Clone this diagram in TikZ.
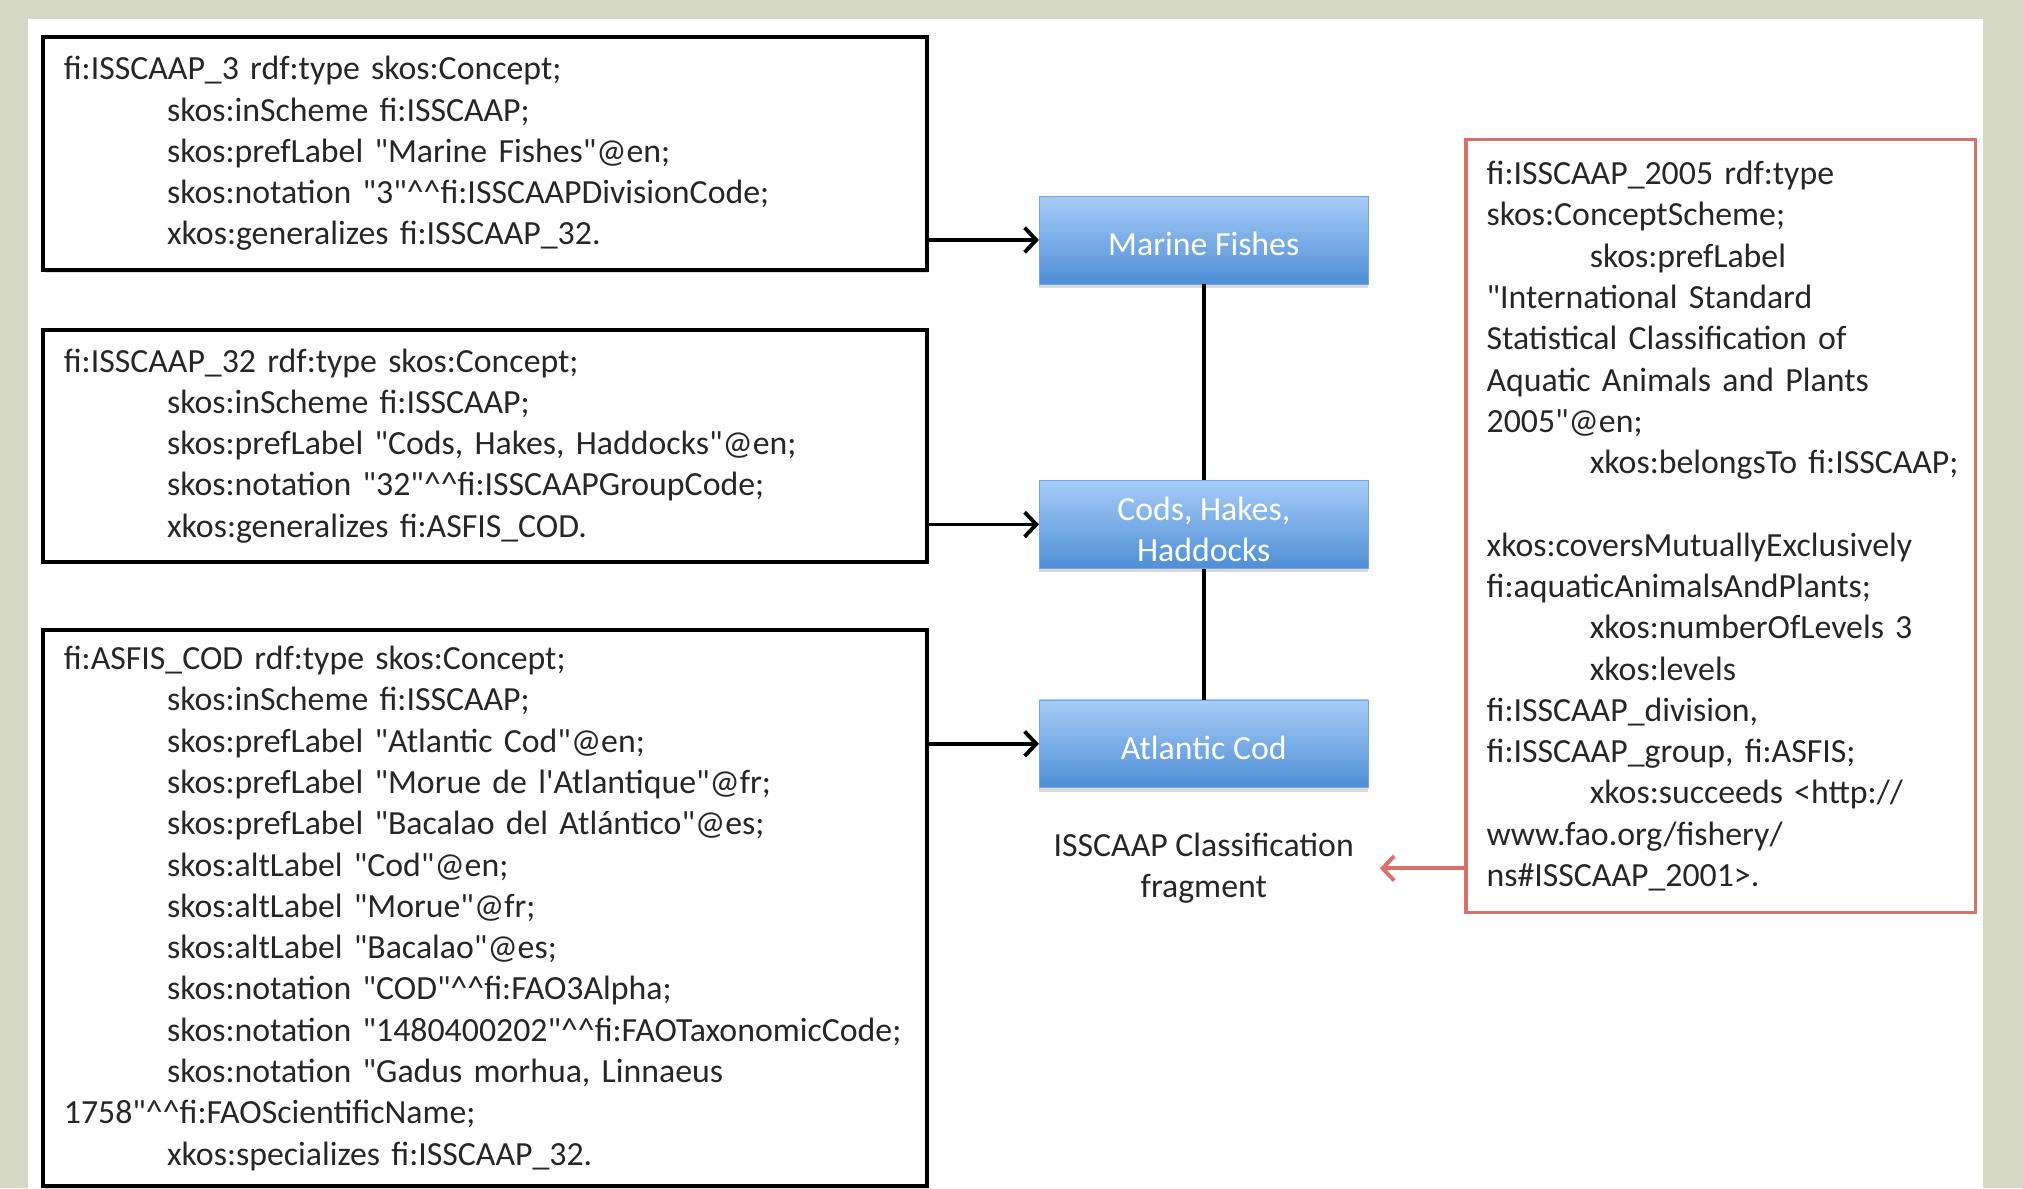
\documentclass[tikz,border=0pt]{standalone}
\usepackage{fontspec}
\setmainfont{Carlito}[Ligatures=TeXOff]
\usepackage{tikz}
\usetikzlibrary{shadows}
\usetikzlibrary{arrows.meta}
\usetikzlibrary{calc,positioning}

\definecolor{panelbg}{RGB}{214,216,198}
\definecolor{boxtop}{RGB}{166,204,247}
\definecolor{boxbot}{RGB}{78,142,214}
\definecolor{schemered}{RGB}{217,112,108}
\newcommand{\indt}{\hspace*{80pt}}
\newcommand{\hats}{\textasciicircum\textasciicircum}

\begin{document}
\begin{tikzpicture}[x=1pt, y=-1pt, >={Straight Barb[length=9pt,width=19pt]},
    txt/.style={font=\fontsize{26.2}{32}\selectfont},
    rdfbox/.style={txt, draw, line width=3pt, fill=white, text=black!85, anchor=north west,
        align=left, text width=653pt, inner xsep=16pt, inner ysep=0pt,
        drop shadow={opacity=.25, shadow xshift=1pt, shadow yshift=-2pt}},
    catbox/.style={txt, text=white, top color=boxtop, bottom color=boxbot, draw=boxbot!60!boxtop,
        line width=.5pt, minimum width=255pt, minimum height=68pt, align=center,
        text height=24pt, text depth=0pt,
        drop shadow={opacity=.3, shadow xshift=0pt, shadow yshift=-3pt}},
    schemebox/.style={txt, draw=schemered, line width=2.5pt, fill=white, text=black!85, anchor=north west,
        align=left, text width=363pt, inner xsep=16pt, inner ysep=0pt},
    link/.style={line width=3pt, line join=round}]

    \path[use as bounding box, fill=panelbg] (0,0) rectangle (1568,921);
    \fill[white] (22,15) rectangle (1537,921);

    \node[rdfbox, minimum height=181pt] (isscaap3) at (32,27) {fi:ISSCAAP\_3 rdf:type skos:Concept;\\
        \indt skos:inScheme fi:ISSCAAP;\\
        \indt skos:prefLabel "Marine Fishes"@en;\\
        \indt skos:notation "3"\hats fi:ISSCAAPDivisionCode;\\
        \indt xkos:generalizes fi:ISSCAAP\_32.};
    \node[rdfbox, minimum height=180pt] (isscaap32) at (32,254) {fi:ISSCAAP\_32 rdf:type skos:Concept;\\
        \indt skos:inScheme fi:ISSCAAP;\\
        \indt skos:prefLabel "Cods, Hakes, Haddocks"@en;\\
        \indt skos:notation "32"\hats fi:ISSCAAPGroupCode;\\
        \indt xkos:generalizes fi:ASFIS\_COD.};
    \node[rdfbox, minimum height=431pt] (asfiscod) at (32,487) {fi:ASFIS\_COD rdf:type skos:Concept;\\
        \indt skos:inScheme fi:ISSCAAP;\\
        \indt skos:prefLabel "Atlantic Cod"@en;\\
        \indt skos:prefLabel "Morue de l\textquotesingle Atlantique"@fr;\\
        \indt skos:prefLabel "Bacalao del Atlántico"@es;\\
        \indt skos:altLabel "Cod"@en;\\
        \indt skos:altLabel "Morue"@fr;\\
        \indt skos:altLabel "Bacalao"@es;\\
        \indt skos:notation "COD"\hats fi:FAO3Alpha;\\
        \indt skos:notation~"1480400202"\hats fi:FAOTaxonomicCode;\\
        \indt skos:notation "Gadus morhua, Linnaeus\\
        1758"\hats fi:FAOScientificName;\\
        \indt xkos:specializes fi:ISSCAAP\_32.};

    \node[catbox] (marine) at (933,186) {Marine Fishes};
    \node[catbox, text height=58pt] (cods) at (933,406.5) {Cods, Hakes,\\Haddocks};
    \node[catbox] (cod) at (933,576.5) {Atlantic Cod};
    \node[txt, align=center, inner xsep=20pt, text=black!85] (caption) at (933,673) {ISSCAAP Classification\\fragment};

    \node[schemebox, minimum height=599pt] (scheme) at (1135,107) {fi:ISSCAAP\_2005 rdf:type\\
        skos:ConceptScheme;\\
        \indt skos:prefLabel\\
        "International Standard\\
        Statistical Classification of\\
        Aquatic Animals and Plants\\
        2005"@en;\\
        \indt xkos:belongsTo~fi:ISSCAAP;\\
        \mbox{}\\
        xkos:coversMutuallyExclusively\\
        fi:aquaticAnimalsAndPlants;\\
        \indt xkos:numberOfLevels~3\\
        \indt xkos:levels\\
        fi:ISSCAAP\_division,\\
        fi:ISSCAAP\_group, fi:ASFIS;\\
        \indt xkos:succeeds~<http://\\
        www.fao.org/fishery/\\
        ns\#ISSCAAP\_2001>.};

    \draw[link, ->] (isscaap3.east |- marine.west) -- (marine.west);
    \draw[link, ->] (isscaap32.east |- cods.west) -- (cods.west);
    \draw[link, ->] (asfiscod.east |- cod.west) -- (cod.west);
    \draw[link] (marine) -- (cods);
    \draw[link] (cods) -- (cod);
    \draw[link, schemered, ->] (scheme.west |- caption.east) -- (caption.east);

\end{tikzpicture}
\end{document}
